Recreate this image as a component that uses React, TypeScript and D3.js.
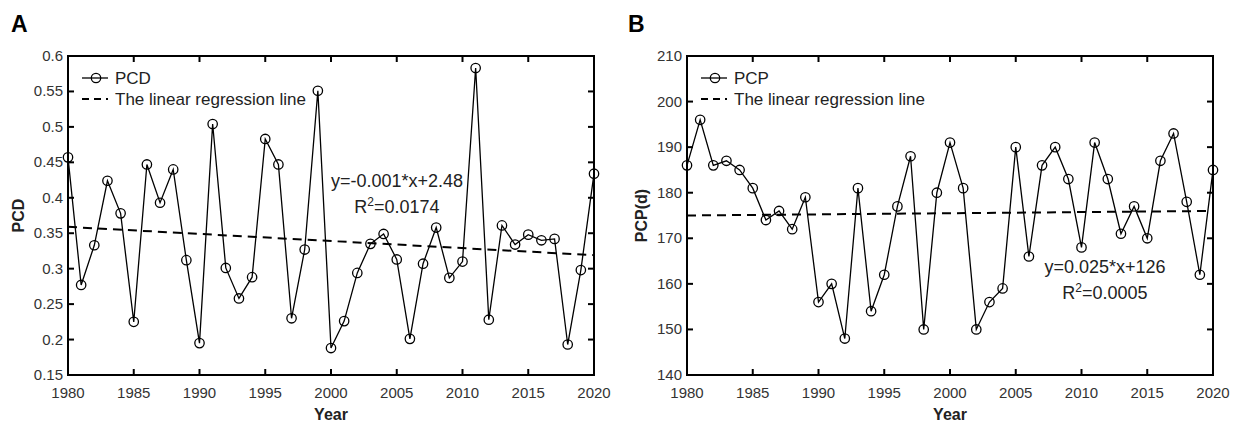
import React from "react";
import * as d3 from "d3";

const years = d3.range(1980, 2021);
const pcd = [0.457, 0.277, 0.333, 0.424, 0.378, 0.225, 0.447, 0.393, 0.44, 0.312, 0.195, 0.504, 0.301, 0.258, 0.288, 0.483, 0.447, 0.23, 0.327, 0.551, 0.188, 0.226, 0.294, 0.335, 0.349, 0.313, 0.201, 0.307, 0.358, 0.287, 0.31, 0.583, 0.228, 0.361, 0.334, 0.348, 0.34, 0.342, 0.193, 0.298, 0.434];
const pcp = [186, 196, 186, 187, 185, 181, 174, 176, 172, 179, 156, 160, 148, 181, 154, 162, 177, 188, 150, 180, 191, 181, 150, 156, 159, 190, 166, 186, 190, 183, 168, 191, 183, 171, 177, 170, 187, 193, 178, 162, 185];
const pcdReg = [0.359, 0.319];
const pcpReg = [175.0, 176.0];
const xTicks = [1980, 1985, 1990, 1995, 2000, 2005, 2010, 2015, 2020];
const pcdTicks = [0.15, 0.2, 0.25, 0.3, 0.35, 0.4, 0.45, 0.5, 0.55, 0.6];
const pcpTicks = [140, 150, 160, 170, 180, 190, 200, 210];

const FONT = "'Liberation Sans', Arial, sans-serif";

function Panel(props: any) {
  const { left, right, top, bottom, yDomain, yTicks, values, reg, letter, letterX, ylabel, ylabelX, legendName, eq, r2, eqX, eqY, fmt } = props;
  const x = d3.scaleLinear().domain([1980, 2020]).range([left, right]);
  const y = d3.scaleLinear().domain(yDomain).range([bottom, top]);
  const line = d3.line<number>().x((_, i) => x(years[i])).y((d) => y(d));
  const tl = 6;
  const lx = left + 14;
  return (
    <g>
      <text x={letterX} y={32} fontFamily={FONT} fontWeight="bold" fontSize={23} fill="#000">{letter}</text>
      <line x1={x(1980)} x2={x(2020)} y1={y(reg[0])} y2={y(reg[1])} stroke="#000" strokeWidth={2} strokeDasharray="9,6" />
      <path d={line(values) || ""} fill="none" stroke="#000" strokeWidth={1.3} />
      {values.map((v: number, i: number) => (
        <circle key={i} cx={x(years[i])} cy={y(v)} r={4.7} fill="none" stroke="#000" strokeWidth={1.3} />
      ))}
      <rect x={left} y={top} width={right - left} height={bottom - top} fill="none" stroke="#000" strokeWidth={2} />
      {xTicks.map((t) => (
        <g key={"x" + t}>
          <line x1={x(t)} x2={x(t)} y1={bottom} y2={bottom - tl} stroke="#000" strokeWidth={2} />
          <line x1={x(t)} x2={x(t)} y1={top} y2={top + tl} stroke="#000" strokeWidth={2} />
          <text x={x(t)} y={bottom + 23} textAnchor="middle" fontFamily={FONT} fontSize={15} fill="#333">{t}</text>
        </g>
      ))}
      {yTicks.map((t: number) => (
        <g key={"y" + t}>
          <line x1={left} x2={left + tl} y1={y(t)} y2={y(t)} stroke="#000" strokeWidth={2} />
          <line x1={right} x2={right - tl} y1={y(t)} y2={y(t)} stroke="#000" strokeWidth={2} />
          <text x={left - 5} y={y(t) + 5} textAnchor="end" fontFamily={FONT} fontSize={15} fill="#333">{fmt(t)}</text>
        </g>
      ))}
      <text x={(left + right) / 2} y={420} textAnchor="middle" fontFamily={FONT} fontWeight="bold" fontSize={16} fill="#222">Year</text>
      <text transform={`translate(${ylabelX},${(top + bottom) / 2}) rotate(-90)`} textAnchor="middle" fontFamily={FONT} fontWeight="bold" fontSize={16} fill="#222">{ylabel}</text>
      <line x1={lx} x2={lx + 26} y1={78} y2={78} stroke="#000" strokeWidth={1.3} />
      <circle cx={lx + 14} cy={78} r={4.7} fill="none" stroke="#000" strokeWidth={1.3} />
      <text x={lx + 33} y={84} fontFamily={FONT} fontSize={17} fill="#222">{legendName}</text>
      <line x1={lx} x2={lx + 26} y1={99} y2={99} stroke="#000" strokeWidth={2} strokeDasharray="7,5" />
      <text x={lx + 33} y={105} fontFamily={FONT} fontSize={17} fill="#222">The linear regression line</text>
      <text x={eqX} y={eqY} textAnchor="middle" fontFamily={FONT} fontSize={18} fill="#222">{eq}</text>
      <text x={eqX} y={eqY + 26} textAnchor="middle" fontFamily={FONT} fontSize={18} fill="#222">
        R<tspan dy={-7} fontSize={12}>2</tspan><tspan dy={7}>{r2}</tspan>
      </text>
    </g>
  );
}

export default function App() {
  return (
    <svg width={1237} height={426} style={{ position: "absolute", left: 0, top: 0, background: "#fff" }}>
      <rect x={0} y={0} width={1237} height={426} fill="#fff" />
      <Panel left={68} right={594} top={56} bottom={375} yDomain={[0.15, 0.6]} yTicks={pcdTicks} values={pcd} reg={pcdReg}
        letter="A" letterX={11} ylabel="PCD" ylabelX={24} legendName="PCD" eq="y=-0.001*x+2.48" r2="=0.0174" eqX={397} eqY={187}
        fmt={(t: number) => String(+t.toFixed(2))} />
      <Panel left={687} right={1213} top={56} bottom={375} yDomain={[140, 210]} yTicks={pcpTicks} values={pcp} reg={pcpReg}
        letter="B" letterX={628} ylabel="PCP(d)" ylabelX={647} legendName="PCP" eq="y=0.025*x+126" r2="=0.0005" eqX={1105} eqY={273}
        fmt={(t: number) => String(t)} />
    </svg>
  );
}
